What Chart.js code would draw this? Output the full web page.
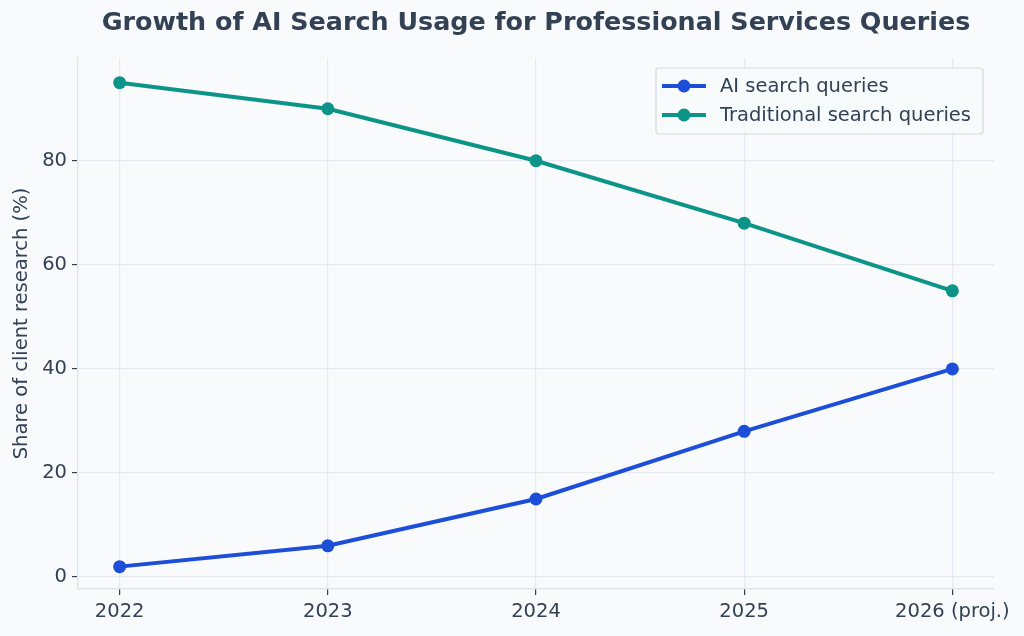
<!DOCTYPE html>
<html>
<head>
<meta charset="utf-8">
<script src="https://cdn.jsdelivr.net/npm/chart.js@4.4.1/dist/chart.umd.min.js"></script>
<style>
  html, body { margin: 0; padding: 0; background: #f8fafc; }
  #wrap { width: 1024px; height: 636px; }
</style>
</head>
<body>
<div id="wrap"><canvas id="chart"></canvas></div>
<script>
// chart data
const years = ["2022", "2023", "2024", "2025", "2026 (proj.)"];
const aiQueries = [2, 6, 15, 28, 40];
const traditionalQueries = [95, 90, 80, 68, 55];
const yTicks = [0, 20, 40, 60, 80];
const chartTitle = "Growth of AI Search Usage for Professional Services Queries";

const blue = "#1d4ed8";
const teal = "#0d9488";
const textColor = "#334155";
const gridColor = "#e5e9f0";
const fontSize = 19.5;

function toPoints(values) {
  return values.map((v, i) => ({ x: i, y: v }));
}

// title centred over the plot area, like matplotlib does
const axesTitle = {
  id: "axesTitle",
  afterDraw(chart) {
    const ctx = chart.ctx;
    const area = chart.chartArea;
    ctx.save();
    ctx.font = "bold 25.4px 'DejaVu Sans'";
    ctx.fillStyle = textColor;
    ctx.textAlign = "center";
    ctx.textBaseline = "middle";
    ctx.fillText(chartTitle, (area.left + area.right) / 2, 23);
    ctx.restore();
  },
};

// matplotlib-like legend box in the upper right corner
const boxLegend = {
  id: "boxLegend",
  afterDraw(chart) {
    const ctx = chart.ctx;
    const area = chart.chartArea;
    const sets = chart.data.datasets;
    ctx.save();
    ctx.font = fontSize + "px 'DejaVu Sans'";
    let maxW = 0;
    sets.forEach((ds) => { maxW = Math.max(maxW, ctx.measureText(ds.label).width); });
    const rowH = 29;
    const w = 64 + maxW + 12;
    const h = sets.length * rowH + 8;
    const x = area.right - 11 - w;
    const y = area.top + 10;
    ctx.fillStyle = "rgba(248,250,252,0.85)";
    ctx.strokeStyle = "#d4d8de";
    ctx.lineWidth = 1.2;
    ctx.beginPath();
    ctx.roundRect(x, y, w, h, 3);
    ctx.fill();
    ctx.stroke();
    sets.forEach((ds, i) => {
      const cy = y + 18 + i * rowH;
      ctx.strokeStyle = ds.borderColor;
      ctx.lineWidth = 4;
      ctx.beginPath();
      ctx.moveTo(x + 6, cy);
      ctx.lineTo(x + 50, cy);
      ctx.stroke();
      ctx.fillStyle = ds.borderColor;
      ctx.beginPath();
      ctx.arc(x + 28, cy, 6.5, 0, Math.PI * 2);
      ctx.fill();
      ctx.fillStyle = textColor;
      ctx.textBaseline = "middle";
      ctx.textAlign = "left";
      ctx.fillText(ds.label, x + 64, cy + 1);
    });
    ctx.restore();
  },
};

new Chart(document.getElementById("chart"), {
  type: "line",
  data: {
    datasets: [
      {
        label: "AI search queries",
        data: toPoints(aiQueries),
        borderColor: blue,
        backgroundColor: blue,
        borderWidth: 4,
        pointRadius: 6.5,
        pointHoverRadius: 6.5,
        pointBorderWidth: 0,
      },
      {
        label: "Traditional search queries",
        data: toPoints(traditionalQueries),
        borderColor: teal,
        backgroundColor: teal,
        borderWidth: 4,
        pointRadius: 6.5,
        pointHoverRadius: 6.5,
        pointBorderWidth: 0,
      },
    ],
  },
  plugins: [axesTitle, boxLegend],
  options: {
    responsive: true,
    maintainAspectRatio: false,
    animation: false,
    layout: { padding: { left: 0, right: 30, top: 58, bottom: 0 } },
    plugins: {
      legend: { display: false },
      tooltip: { enabled: false },
      title: { display: false },
    },
    scales: {
      x: {
        type: "linear",
        min: -0.2,
        max: 4.2,
        afterFit: (scale) => { scale.height = 47; },
        ticks: {
          stepSize: 1,
          includeBounds: false,
          color: textColor,
          font: { family: "'DejaVu Sans'", size: fontSize },
          padding: 5,
          maxRotation: 0,
          callback: (v) => years[v],
        },
        grid: { color: gridColor, lineWidth: 1.2, tickLength: 6, tickColor: "#334155" },
        border: { display: true, color: "#dde2ea", width: 1.2 },
      },
      y: {
        min: -2.3,
        max: 99.75,
        afterFit: (scale) => { scale.width = 78; },
        afterBuildTicks: (scale) => { scale.ticks = yTicks.map((v) => ({ value: v })); },
        ticks: {
          includeBounds: false,
          color: textColor,
          font: { family: "'DejaVu Sans'", size: fontSize },
          padding: 5,
        },
        grid: { color: gridColor, lineWidth: 1.2, tickLength: 6, tickColor: "#334155" },
        border: { display: true, color: "#dde2ea", width: 1.2 },
        title: {
          display: true,
          text: "Share of client research (%)",
          color: textColor,
          font: { family: "'DejaVu Sans'", size: fontSize },
          padding: { top: 10, bottom: 4 },
        },
      },
    },
  },
});
</script>
</body>
</html>
